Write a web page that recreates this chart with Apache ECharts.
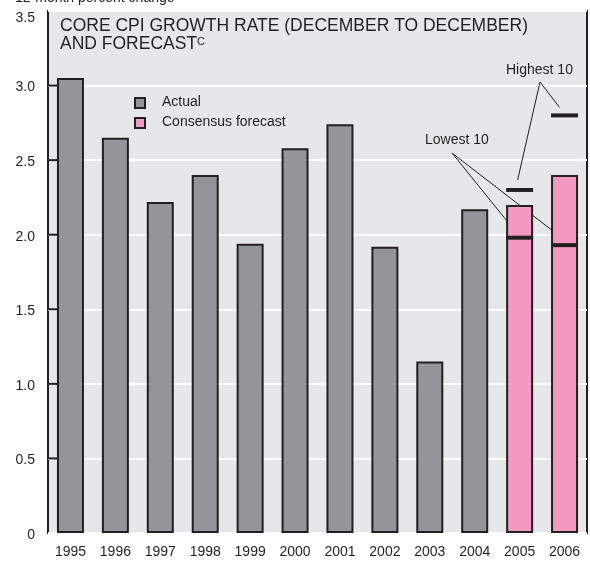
<!DOCTYPE html>
<html><head><meta charset="utf-8">
<script src="https://cdn.jsdelivr.net/npm/echarts@6/dist/echarts.min.js"></script>
<style>html,body{margin:0;padding:0;background:#fff}#c{width:590px;height:561px}</style>
</head><body><div id="c"></div>
<script>
const years = ['1995','1996','1997','1998','1999','2000','2001','2002','2003','2004','2005','2006'];
const actual = [3.05, 2.65, 2.22, 2.40, 1.94, 2.58, 2.74, 1.92, 1.15, 2.17, null, null];
const forecast = [null, null, null, null, null, null, null, null, null, null, 2.20, 2.40];
const highest10 = [['2005', 2.30], ['2006', 2.80]];
const lowest10 = [['2005', 1.98], ['2006', 1.93]];
const yTicks = [0.5, 1.0, 1.5, 2.0, 2.5, 3.0];

const FONT = '"Liberation Sans",Arial,sans-serif';
const INK = '#231f20';
const chart = echarts.init(document.getElementById('c'), null, {renderer: 'canvas'});
const barBorder = {borderColor: INK, borderWidth: 2};
chart.setOption({
  animation: false,
  textStyle: {fontFamily: FONT},
  grid: {left: 48, right: 3, top: 11, bottom: 28, show: true, backgroundColor: '#e6e7e8', borderColor: INK, borderWidth: 2},
  xAxis: {
    type: 'category', data: years,
    axisLine: {show: false}, axisTick: {show: false},
    axisLabel: {color: INK, fontSize: 14, fontFamily: FONT, margin: 12}
  },
  yAxis: {
    type: 'value', min: 0, max: 3.5, interval: 0.5,
    axisLine: {show: false},
    axisTick: {show: false},
    splitLine: {lineStyle: {color: '#ffffff', width: 2}},
    axisLabel: {color: INK, fontSize: 14, fontFamily: FONT, margin: 13,
      formatter: v => (v === 3.5 ? '{t|3.5}' : '{n|' + (v === 0 ? '0' : v.toFixed(1)) + '}'),
      rich: {
        n: {fontSize: 14, fontFamily: FONT, color: INK, padding: [4, 0, 0, 0]},
        t: {fontSize: 14, fontFamily: FONT, color: INK, padding: [14, 0, 0, 0]}
      }}
  },
  series: [
    {name: 'Actual', type: 'bar', data: actual, barWidth: 27, barGap: '-100%',
     itemStyle: Object.assign({color: '#939598'}, barBorder)},
    {name: 'Consensus forecast', type: 'bar', data: forecast, barWidth: 27,
     itemStyle: Object.assign({color: '#f49ac1'}, barBorder)},
    {name: 'Highest 10', type: 'scatter', data: highest10, symbol: 'rect', symbolSize: [27, 4],
     itemStyle: {color: INK, opacity: 1}, z: 5},
    {name: 'Lowest 10', type: 'scatter', data: lowest10, symbol: 'rect', symbolSize: [27, 4],
     itemStyle: {color: INK, opacity: 1}, z: 5}
  ]
});

function px(pt) { return chart.convertToPixel({xAxisIndex: 0, yAxisIndex: 0}, pt); }
const g = [];
// inward ticks on the left frame
yTicks.forEach(v => {
  const y = chart.convertToPixel({yAxisIndex: 0}, v);
  g.push({type: 'line', z: 10, shape: {x1: 48, y1: y, x2: 58, y2: y}, style: {stroke: INK, lineWidth: 2}});
});
// title
g.push({type: 'text', left: 60, top: 17, style: {text: 'CORE CPI GROWTH RATE (DECEMBER TO DECEMBER)', font: '17.5px ' + FONT, fill: INK}});
g.push({type: 'text', left: 60, top: 35, style: {text: 'AND FORECAST', font: '17.5px ' + FONT, fill: INK}});
g.push({type: 'text', left: 197, top: 36, style: {text: 'C', font: '11px ' + FONT, fill: INK}});
g.push({type: 'text', left: 15, top: -9, style: {text: '12-month percent change', font: '14px ' + FONT, fill: INK}});
// legend
const leg = [['Actual', '#939598', 95], ['Consensus forecast', '#f49ac1', 115]];
leg.forEach(([t, c, y]) => {
  g.push({type: 'rect', shape: {x: 135, y: y + 3, width: 10, height: 10}, style: {fill: c, stroke: INK, lineWidth: 2}});
  g.push({type: 'text', left: 162, top: y, style: {text: t, font: '14px ' + FONT, fill: INK}});
});
// annotations
g.push({type: 'text', left: 506, top: 63, style: {text: 'Highest 10', font: '14px ' + FONT, fill: INK}});
g.push({type: 'text', left: 425, top: 133, style: {text: 'Lowest 10', font: '14px ' + FONT, fill: INK}});
const hA = [540, 82];
highest10.forEach(p => {
  const q = px(p);
  const end = p[0] === '2005' ? [q[0] - 2, q[1] - 10] : [q[0] - 5, q[1] - 8];
  g.push({type: 'line', shape: {x1: hA[0], y1: hA[1], x2: end[0], y2: end[1]}, style: {stroke: INK, lineWidth: 1}});
});
const lA = [452, 153];
lowest10.forEach(p => {
  const q = px(p);
  const end = p[0] === '2005' ? [q[0] - 4, q[1] - 6] : [q[0] - 1, q[1] - 6];
  g.push({type: 'line', shape: {x1: lA[0], y1: lA[1], x2: end[0], y2: end[1]}, style: {stroke: INK, lineWidth: 1}});
});
chart.setOption({graphic: g});
</script></body></html>
